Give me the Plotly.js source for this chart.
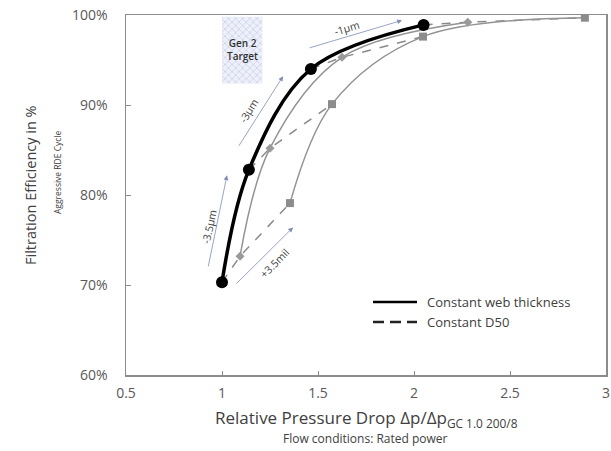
<!DOCTYPE html>
<html><head><meta charset="utf-8">
<script src="https://cdn.plot.ly/plotly-3.0.1.min.js"></script>
<style>html,body{margin:0;padding:0;background:#fff;}#chart{width:611px;height:451px;}</style>
</head><body><div id="chart"></div>
<script>
// Constant web thickness (black, circles)
const webX = [1.0, 1.14, 1.463, 2.05];
const webY = [70.3, 82.8, 94.0, 98.9];
// Gray curve, middle variant
const midX = [1.094, 1.25, 1.625, 2.28];
const midY = [73.2, 85.2, 95.3, 99.2];
// Gray curve, squares
const sqX = [1.354, 1.573, 2.047, 2.89];
const sqY = [79.1, 90.1, 97.6, 99.7];
// Gen 2 target box
const targetX = [1.0, 1.21, 1.21, 1.0, 1.0];
const targetY = [99.8, 99.8, 92.4, 92.4, 99.8];
// Axis ticks
const yTicks = [60, 70, 80, 90, 100];
const xTicks = [0.5, 1, 1.5, 2, 2.5, 3];
const legendNames = ['Constant web thickness', 'Constant D50'];

const FONT = '"Open Sans", sans-serif';
const TXT = '#404040';
const traces = [];

traces.push({x: targetX, y: targetY, mode: 'lines', fill: 'toself', line: {width: 0},
  fillcolor: '#e6eaf6', fillpattern: {shape: 'x', fgcolor: '#c3cbe8', bgcolor: '#eef0f9', size: 5, solidity: 0.25},
  showlegend: false, hoverinfo: 'skip'});

// dashed "Constant D50" lines
for (let i = 0; i < webX.length; i++) {
  traces.push({x: [webX[i], midX[i], sqX[i]], y: [webY[i], midY[i], sqY[i]], mode: 'lines',
    line: {color: '#8a8a8a', width: 1.5, dash: 'dash'}, showlegend: false});
}
traces.push({x: sqX, y: sqY, mode: 'lines+markers', line: {color: '#939393', width: 1.5, shape: 'spline'},
  marker: {symbol: 'square', size: 8, color: '#8c8c8c'}, showlegend: false});
traces.push({x: midX, y: midY, mode: 'lines+markers', line: {color: '#939393', width: 1.5, shape: 'spline'},
  marker: {symbol: 'diamond', size: 7, color: '#9a9a9a'}, showlegend: false});
traces.push({x: webX, y: webY, mode: 'lines+markers', line: {color: '#000', width: 3.5, shape: 'spline'},
  marker: {symbol: 'circle', size: 12, color: '#000'}, showlegend: false});

function arrow(x, y, ax, ay) {
  return {x: x, y: y, ax: ax, ay: ay, xref: 'x', yref: 'y', axref: 'x', ayref: 'y', text: '',
    showarrow: true, arrowhead: 2, arrowsize: 1.2, arrowwidth: 0.8, arrowcolor: '#7f8cb5'};
}
function label(x, y, t, ang) {
  return {x: x, y: y, xref: 'x', yref: 'y', text: t, showarrow: false, textangle: ang,
    font: {family: FONT, size: 10.5, color: TXT}};
}
const plotW = 480, plotH = 360, L = 126, T = 15;
const px = v => (v - L) / plotW;
const py = v => (T + plotH - v) / plotH;

const annotations = [
  arrow(1.026, 82.2, 0.927, 71.9),
  arrow(1.318, 93.2, 1.083, 85.3),
  arrow(1.9375, 99.4, 1.448, 96.3),
  arrow(1.37, 76.4, 1.068, 70.0),
  label(0.935, 76.4, '-3.5µm', -78),
  label(1.143, 89.4, '-3µm', -58),
  label(1.651, 98.55, '-1µm', -17),
  label(1.276, 72.4, '+3.5mil', -45),
  {x: 1.105, y: 96.2, xref: 'x', yref: 'y', text: 'Gen 2<br>Target', showarrow: false,
    font: {family: FONT, size: 10, color: '#303030', weight: 600}},
  {x: px(30), y: py(185), xref: 'paper', yref: 'paper', xanchor: 'center', yanchor: 'middle',
    text: 'Filtration Efficiency in %', showarrow: false, textangle: -90,
    font: {family: FONT, size: 14.5, color: TXT}},
  {x: px(57), y: py(172), xref: 'paper', yref: 'paper', xanchor: 'center', yanchor: 'middle',
    text: 'Aggressive RDE Cycle', showarrow: false, textangle: -90,
    font: {family: FONT, size: 8.5, color: TXT}},
  {x: px(366), y: py(418), xref: 'paper', yref: 'paper', xanchor: 'center', yanchor: 'middle',
    text: 'Relative Pressure Drop Δp/Δp<sub>GC 1.0 200/8</sub>', showarrow: false,
    font: {family: FONT, size: 17, color: TXT}},
  {x: px(365), y: py(438), xref: 'paper', yref: 'paper', xanchor: 'center', yanchor: 'middle',
    text: 'Flow conditions: Rated power', showarrow: false,
    font: {family: FONT, size: 12, color: TXT}},
  {x: px(425), y: py(302), xref: 'paper', yref: 'paper', xanchor: 'left', yanchor: 'middle',
    text: legendNames[0], showarrow: false, font: {family: FONT, size: 13, color: TXT}},
  {x: px(425), y: py(322), xref: 'paper', yref: 'paper', xanchor: 'left', yanchor: 'middle',
    text: legendNames[1], showarrow: false, font: {family: FONT, size: 13, color: TXT}}
];
const shapes = [
  {type: 'line', xref: 'paper', yref: 'paper', x0: px(373), x1: px(417), y0: py(302), y1: py(302),
    line: {color: '#000', width: 2.5}},
  {type: 'line', xref: 'paper', yref: 'paper', x0: px(373), x1: px(417), y0: py(322), y1: py(322),
    line: {color: '#222', width: 2.5, dash: '11px,6px'}}
];

const layout = {
  width: 611, height: 451,
  margin: {l: 126, r: 5, t: 15, b: 76},
  paper_bgcolor: '#fff', plot_bgcolor: '#fff',
  font: {family: FONT, color: '#595959', size: 13},
  xaxis: {range: [0.5, 3], tickvals: xTicks, ticktext: xTicks.map(String), showgrid: false, zeroline: false,
    showline: true, mirror: true, linecolor: '#8c8c8c', linewidth: 1.5, ticks: 'inside', ticklen: 4,
    tickcolor: '#8c8c8c', ticklabelstandoff: 5, tickfont: {family: FONT, size: 14, color: '#595959'}},
  yaxis: {range: [60, 100], tickvals: yTicks, ticktext: yTicks.map(v => v + '%'), showgrid: false, zeroline: false,
    showline: true, mirror: true, linecolor: '#8c8c8c', linewidth: 1.5, ticks: 'inside', ticklen: 5,
    tickcolor: '#8c8c8c', ticklabelstandoff: 14, tickfont: {family: FONT, size: 14, color: '#595959'}},
  annotations: annotations,
  shapes: shapes,
  showlegend: false
};
Plotly.newPlot('chart', traces, layout, {displayModeBar: false, staticPlot: true});
</script></body></html>
